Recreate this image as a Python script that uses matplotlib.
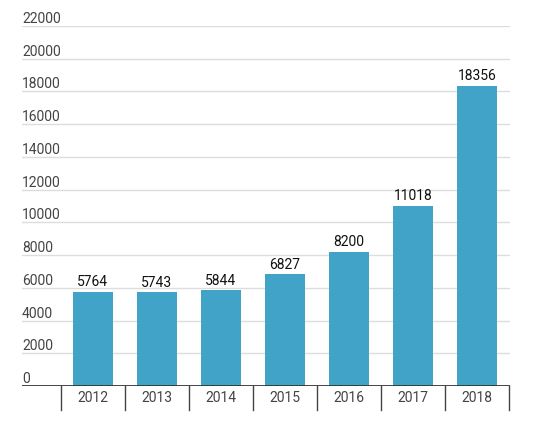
import matplotlib.pyplot as plt
import matplotlib.transforms as mtransforms

plt.rcParams['font.family'] = ['Roboto', 'DejaVu Sans']

# data
years = ['2012', '2013', '2014', '2015', '2016', '2017', '2018']
values = [5764, 5743, 5844, 6827, 8200, 11018, 18356]
y_ticks = [0, 2000, 4000, 6000, 8000, 10000, 12000, 14000, 16000, 18000, 20000, 22000]

W, H = 538, 428
fig = plt.figure(figsize=(W / 100, H / 100), dpi=100)
ax = fig.add_axes([22 / W, 42 / H, (510 - 22) / W, (386 - 26) / H])

x = list(range(len(years)))
ax.bar(x, values, width=0.61, color='#41a3c8', zorder=3)

ax.set_ylim(0, 22000)
ax.set_xlim(-0.5 - 39 / 64, len(years) - 0.5 + 1 / 64)

# gridlines and y labels sitting above them
for t in y_ticks:
    if t > 0:
        ax.axhline(t, color='#dddddd', lw=1, zorder=1)
    ax.text(0, t, str(t), transform=mtransforms.blended_transform_factory(ax.transAxes, ax.transData),
            ha='left', va='bottom', fontsize=10, color='#444444',
            bbox=None)

# value labels
for xi, v in zip(x, values):
    ax.text(xi, v + 150, str(v), ha='center', va='bottom', fontsize=10, color='#111111', zorder=4)

for s in ax.spines.values():
    s.set_visible(False)
ax.axhline(0, color='#333333', lw=2, zorder=5)
ax.set_yticks([])
ax.set_xticks([])

# category separators below axis
sep_tr = mtransforms.blended_transform_factory(ax.transData, ax.transAxes)
for b in range(len(years) + 1):
    ax.plot([b - 0.5, b - 0.5], [0, -24 / 360], transform=sep_tr, color='#444444', lw=1,
            clip_on=False, zorder=5)
for xi, yr in zip(x, years):
    ax.text(xi, -12 / 360, yr, transform=sep_tr, ha='center', va='center', fontsize=10,
            color='#444444')

fig.savefig('out.png', dpi=100)
